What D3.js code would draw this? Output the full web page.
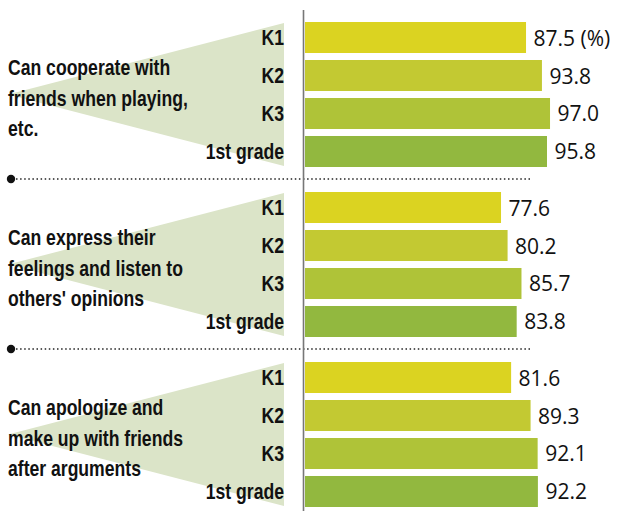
<!DOCTYPE html>
<html>
<head>
<meta charset="utf-8">
<style>
body { margin: 0; background: #fff; }
.cat { font-family: "Liberation Sans", Arial, sans-serif; font-weight: bold; fill: #111; }
.val { font-family: "Open Sans", "Noto Sans", sans-serif; fill: #111; }
</style>
<script src="https://cdn.jsdelivr.net/npm/d3@7"></script>
</head>
<body>
<script>
// chart data
var questions = [
  ["Can cooperate with", "friends when playing,", "etc."],
  ["Can express their", "feelings and listen to", "others' opinions"],
  ["Can apologize and", "make up with friends", "after arguments"]
];
var grades = ["K1", "K2", "K3", "1st grade"];
var values = [
  [87.5, 93.8, 97.0, 95.8],
  [77.6, 80.2, 85.7, 83.8],
  [81.6, 89.3, 92.1, 92.2]
];
var colors = ["#dbd321", "#c3c932", "#afc338", "#92b83f"];

var width = 618, height = 511;
var squeeze = 0.8;   // no condensed bold font installed, so narrow the bold one

var svg = d3.select("body").append("svg")
    .attr("width", width)
    .attr("height", height);

var x = d3.scaleLinear().domain([0, 100]).range([305, 305 + 252.6]);

var group = d3.scaleBand()
    .domain(d3.range(questions.length))
    .range([0, 510]);

var y = d3.scaleBand()
    .domain(grades)
    .range([22, 167])
    .paddingInner(0.184);

var g = svg.selectAll("g.group")
    .data(questions)
    .enter().append("g")
    .attr("class", "group")
    .attr("transform", function(d, i) { return "translate(0," + group(i) + ")"; });

// light green wedge pointing to the question
g.append("path")
    .attr("fill", "#dbe4c8")
    .attr("d", function() {
        var top = y(grades[0]) + 1,
            bot = y(grades[grades.length - 1]) + y.bandwidth() - 1,
            mid = (top + bot) / 2;
        return "M8," + mid + "L284," + top + "L284," + bot + "Z";
    });

// question text
g.each(function(d, i) {
    var mid = (y(grades[0]) + y(grades[grades.length - 1]) + y.bandwidth()) / 2;
    d3.select(this).selectAll("text.q")
        .data(d)
        .enter().append("text")
        .attr("class", "cat")
        .attr("transform", function(t, j) {
            return "translate(8," + (mid + 11 + (j - 1) * 30.5) + ") scale(" + squeeze + ",1)";
        })
        .style("font-size", "22px")
        .text(function(t) { return t; });
});

// grade labels
g.selectAll("text.grade")
    .data(grades)
    .enter().append("text")
    .attr("class", "cat")
    .attr("transform", function(d) {
        return "translate(284," + (y(d) + y.bandwidth() / 2 + 7.5) + ") scale(" + squeeze + ",1)";
    })
    .attr("text-anchor", "end")
    .style("font-size", "22px")
    .text(function(d) { return d; });

// bars
g.selectAll("rect")
    .data(function(d, i) { return values[i]; })
    .enter().append("rect")
    .attr("x", x(0))
    .attr("y", function(d, j) { return y(grades[j]); })
    .attr("width", function(d) { return x(d) - x(0); })
    .attr("height", y.bandwidth())
    .attr("fill", function(d, j) { return colors[j]; });

// value labels
g.selectAll("text.val")
    .data(function(d, i) { return values[i].map(function(v, j) { return {v: v, j: j, first: i == 0 && j == 0}; }); })
    .enter().append("text")
    .attr("class", "val")
    .attr("x", function(d) { return x(d.v) + 7.5; })
    .attr("y", function(d) { return y(grades[d.j]) + y.bandwidth() / 2 + 8; })
    .style("font-size", "21px")
    .text(function(d) { return d.v.toFixed(1) + (d.first ? " (%)" : ""); });

// dotted separators between groups
var seps = d3.range(questions.length - 1).map(function(i) { return group(i + 1) + 9; });

svg.selectAll("line.sep")
    .data(seps)
    .enter().append("line")
    .attr("x1", 16)
    .attr("x2", 530)
    .attr("y1", function(d) { return d; })
    .attr("y2", function(d) { return d; })
    .attr("stroke", "#222")
    .attr("stroke-width", 1.6)
    .attr("stroke-dasharray", "1.5 2.6");

svg.selectAll("circle.sep")
    .data(seps)
    .enter().append("circle")
    .attr("cx", 11)
    .attr("cy", function(d) { return d; })
    .attr("r", 4.2)
    .attr("fill", "#111");

// vertical axis line
svg.append("line")
    .attr("x1", 303.5)
    .attr("x2", 303.5)
    .attr("y1", 10)
    .attr("y2", height)
    .attr("stroke", "#777")
    .attr("stroke-width", 1.6);
</script>
</body>
</html>
